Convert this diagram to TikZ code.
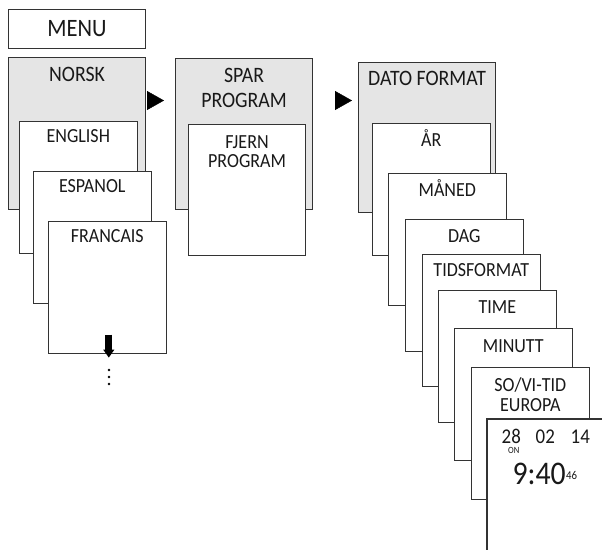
\documentclass[tikz,border=0pt]{standalone}
\usepackage{fontspec}
\setmainfont{Carlito}[FakeStretch=0.9]
\usetikzlibrary{arrows.meta}

\tikzset{
  card/.style={draw=black!80, line width=1.1pt, fill=white, anchor=north west, inner sep=0pt,
    minimum width=117.5pt, minimum height=131.5pt},
  headcard/.style={card, fill=black!10, minimum width=137pt, minimum height=151pt},
  cardtext/.style={anchor=south, inner sep=0pt, align=center, text=black!90,
    font=\fontsize{20}{19.7}\selectfont},
  headtext/.style={cardtext, font=\fontsize{22}{25}\selectfont},
  digits/.style={anchor=base, inner sep=0pt, text=black!90, font=\fontsize{21}{21}\selectfont},
  pointer/.style={-{Triangle[length=17pt,width=19pt]}, line width=0.4pt},
}

\begin{document}
\begin{tikzpicture}[x=1pt, y=-1pt]
    \useasboundingbox (0,0) rectangle (602,550);

    % Menu title
    \node[card, minimum width=137pt, minimum height=39pt] (menu) at (8,9) {};
    \node[cardtext, font=\fontsize{25}{25}\selectfont] (tMenu) at ([yshift=-27.7pt]menu.north) {MENU};

    % Language column
    \node[headcard, minimum height=152pt] (norsk) at (8,57) {};
    \node[headtext] (tNorsk) at ([yshift=-24.7pt]norsk.north) {NORSK};
    \node[card] (english) at (19,121) {};
    \node[cardtext] (tEnglish) at ([yshift=-22.3pt]english.north) {ENGLISH};
    \node[card] (espanol) at (33,171) {};
    \node[cardtext] (tEspanol) at ([yshift=-22.3pt]espanol.north) {ESPANOL};
    \node[card] (francais) at (48,221) {};
    \node[cardtext] (tFrancais) at ([yshift=-22.3pt]francais.north) {FRANCAIS};

    % More languages further down
    \draw[line width=7.3pt, -{Triangle[length=8pt,width=10.7pt]}]
        ([xshift=1.5pt, yshift=19pt]francais.south) -- ([xshift=1.5pt, yshift=-4pt]francais.south);
    \fill (109,370) circle (1.35);
    \fill (109,377) circle (1.35);
    \fill (109,384) circle (1.35);

    % Program column
    \node[headcard] (spar) at (175,58) {};
    \node[headtext] (tSpar) at ([yshift=-50.3pt]spar.north) {SPAR\\PROGRAM};
    \node[card, minimum width=117pt, minimum height=131pt] (fjern) at (188,124) {};
    \node[cardtext] (tFjern) at ([yshift=-44.3pt]fjern.north) {FJERN\\PROGRAM};

    % Date and time column
    \node[headcard, minimum height=150pt] (dato) at (358,62) {};
    \node[headtext] (tDato) at ([yshift=-24pt]dato.north) {DATO FORMAT};
    \node[card] (aar) at (372,123) {};
    \node[cardtext] (tAar) at ([yshift=-23.7pt]aar.north) {ÅR};
    \node[card] (maaned) at (388,173) {};
    \node[cardtext] (tMaaned) at ([yshift=-23.7pt]maaned.north) {MÅNED};
    \node[card] (dag) at (405,219) {};
    \node[cardtext] (tDag) at ([yshift=-23.7pt]dag.north) {DAG};
    \node[card] (tidsformat) at (422,254) {};
    \node[cardtext] (tTidsformat) at ([yshift=-23.3pt]tidsformat.north) {TIDSFORMAT};
    \node[card] (time) at (438,290) {};
    \node[cardtext] (tTime) at ([yshift=-23.3pt]time.north) {TIME};
    \node[card] (minutt) at (454,328) {};
    \node[cardtext] (tMinutt) at ([yshift=-24.7pt]minutt.north) {MINUTT};
    \node[card] (sovitid) at (471,367) {};
    \node[cardtext] (tSovitid) at ([yshift=-44.7pt]sovitid.north) {SO/VI-TID\\EUROPA};

    % Display, cut off by the page edge
    \node[fill=white, anchor=north west, inner sep=0pt, minimum width=115pt, minimum height=131pt]
        (display) at (487,419) {};
    \draw[draw=black!80, line width=1.1pt] (display.north east) -| (display.south west);
    \node[digits] (day) at (511.3,443.3) {28};
    \node[digits, font=\fontsize{9.5}{9.5}\selectfont] (on) at (513.8,453.6) {ON};
    \node[digits] (month) at (545.3,443.3) {02};
    \node[digits] (year) at (580.3,443.3) {14};
    \node[digits, font=\fontsize{33}{33}\selectfont] (clock) at (539.2,484.3) {9:40};
    \node[digits, anchor=base west, font=\fontsize{12}{12}\selectfont] (sec) at (566,479.3) {46};

    % Steps between the columns
    \draw[pointer, shorten <=2pt, shorten >=11pt] (norsk.east |- 0,100.5) -- (spar.west |- 0,100.5);
    \draw[pointer, shorten <=23pt, shorten >=6pt] (spar.east |- 0,100.5) -- (dato.west |- 0,100.5);

\end{tikzpicture}
\end{document}
